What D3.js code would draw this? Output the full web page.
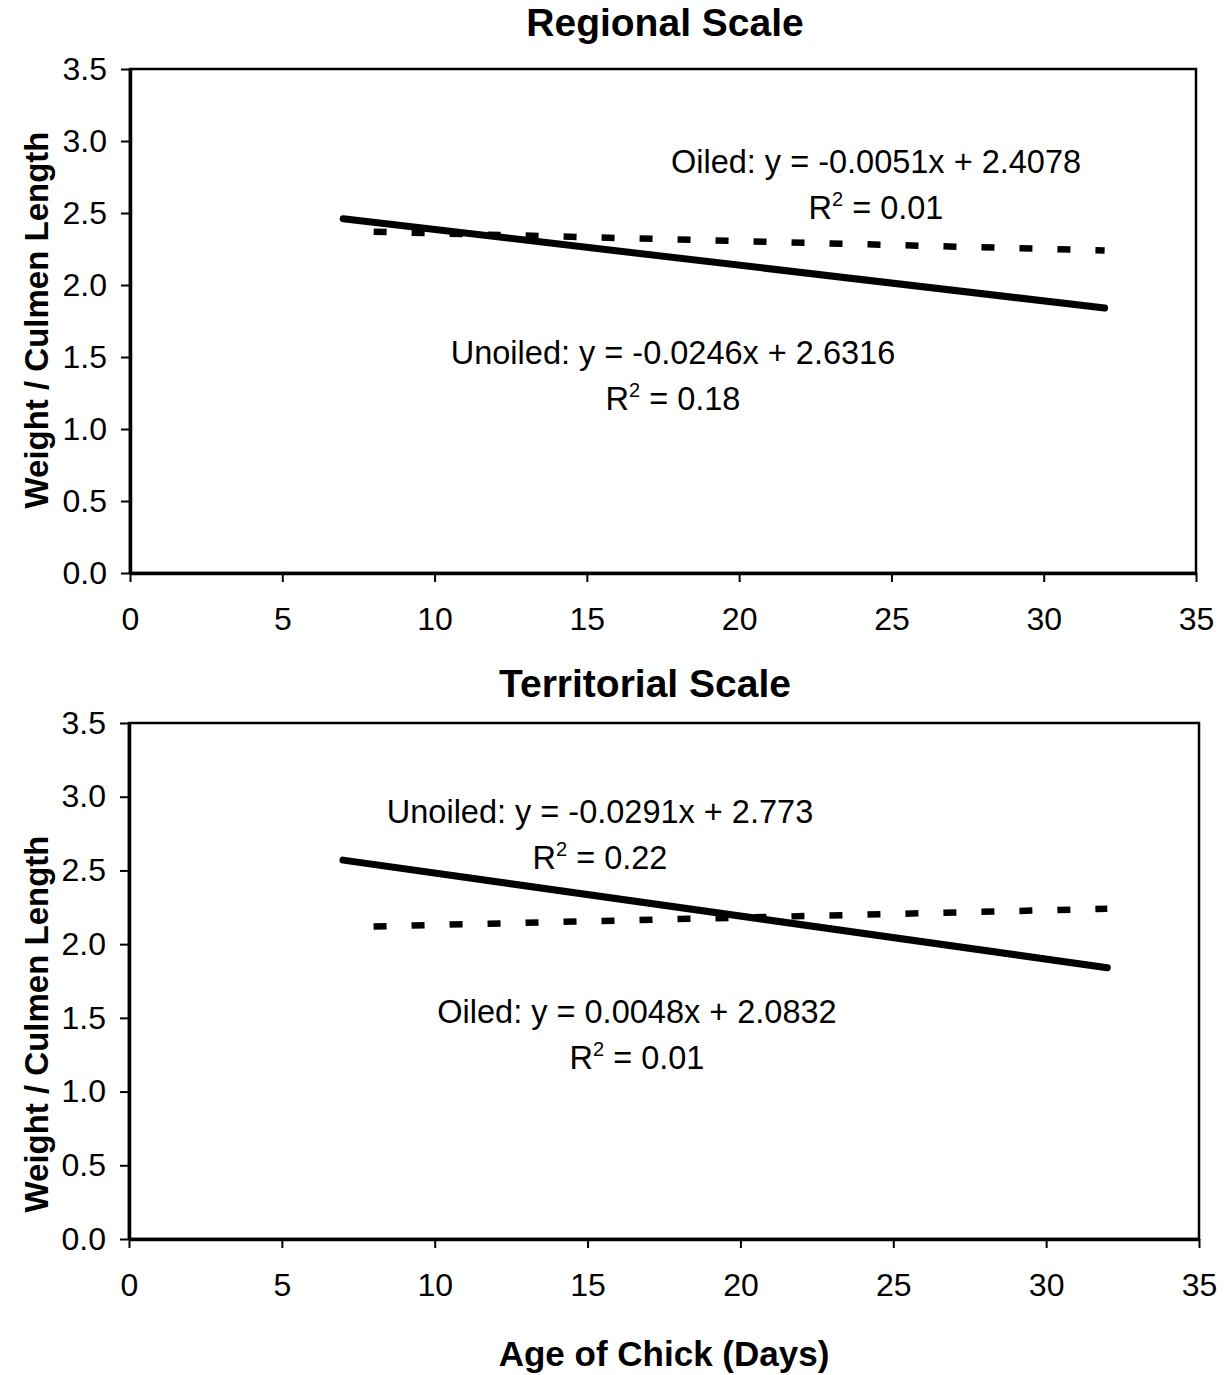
<!DOCTYPE html>
<meta charset="utf-8">
<html>
<head>
	<script src="https://cdn.jsdelivr.net/npm/d3@7"></script>
	<style>
		body { margin: 0; background: #fff; }
		svg text { font-family: "Liberation Sans", Arial, sans-serif; fill: #000; }
	</style>
</head>
<body>
	<div id="chart"></div>
	<script>
		// tick values on both axes
		var xTicks = [0, 5, 10, 15, 20, 25, 30, 35];
		var yTicks = [0, 0.5, 1.0, 1.5, 2.0, 2.5, 3.0, 3.5];

		var titles = ["Regional Scale", "Territorial Scale"];
		var yTitle = "Weight / Culmen Length";
		var xTitle = "Age of Chick (Days)";

		// trend line end points: [age, weight/culmen]
		var regionalUnoiled = [[7, 2.46], [32, 1.84]];
		var regionalOiled = [[8, 2.37], [32, 2.24]];
		var territorialUnoiled = [[7, 2.57], [32, 1.84]];
		var territorialOiled = [[8, 2.12], [32, 2.24]];

		// regression labels: equation, R squared
		var regionalOiledEq = ["Oiled: y = -0.0051x + 2.4078", "0.01"];
		var regionalUnoiledEq = ["Unoiled: y = -0.0246x + 2.6316", "0.18"];
		var territorialUnoiledEq = ["Unoiled: y = -0.0291x + 2.773", "0.22"];
		var territorialOiledEq = ["Oiled: y = 0.0048x + 2.0832", "0.01"];

		var svgWidth = 1226, svgHeight = 1375;

		// layout for each panel (pixels)
		var panels = [
			{ title: titles[0], left: 130, right: 1196, top: 69, bottom: 573, titleX: 665, titleY: 36, yTitleY: 320,
			  solid: regionalUnoiled, dashed: regionalOiled,
			  notes: [{ text: regionalOiledEq, x: 876, y: 173 }, { text: regionalUnoiledEq, x: 673, y: 364 }] },
			{ title: titles[1], left: 129, right: 1199, top: 723, bottom: 1239, titleX: 645, titleY: 697, yTitleY: 1024,
			  solid: territorialUnoiled, dashed: territorialOiled,
			  notes: [{ text: territorialUnoiledEq, x: 600, y: 823 }, { text: territorialOiledEq, x: 637, y: 1023 }] }
		];

		var svg = d3.select("#chart").append("svg")
			.attr("width", svgWidth)
			.attr("height", svgHeight);

		panels.forEach(function(p) {
			var x = d3.scaleLinear().domain([0, 35]).range([p.left, p.right]);
			var y = d3.scaleLinear().domain([0, 3.5]).range([p.bottom, p.top]);

			var line = d3.line()
				.x(function(d) { return x(d[0]); })
				.y(function(d) { return y(d[1]); });

			var g = svg.append("g");

			// frame
			g.append("rect")
				.attr("x", p.left)
				.attr("y", p.top)
				.attr("width", p.right - p.left)
				.attr("height", p.bottom - p.top)
				.attr("fill", "none")
				.attr("stroke", "#000")
				.attr("stroke-width", 2.5);

			var yAxis = g.append("g")
				.attr("transform", "translate(" + p.left + ",0)")
				.call(d3.axisLeft(y).tickValues(yTicks).tickFormat(d3.format(".1f")).tickSize(9).tickSizeOuter(0).tickPadding(14));

			var xAxis = g.append("g")
				.attr("transform", "translate(0," + p.bottom + ")")
				.call(d3.axisBottom(x).tickValues(xTicks).tickSize(9).tickSizeOuter(0).tickPadding(25));

			[yAxis, xAxis].forEach(function(a) {
				a.select(".domain").attr("stroke-width", 3.5);
				a.selectAll(".tick line").attr("stroke-width", 2);
				a.selectAll("text")
					.style("font-size", "32px")
					.attr("fill", "#000");
			});

			g.append("path")
				.datum(p.solid)
				.attr("d", line)
				.attr("fill", "none")
				.attr("stroke", "#000")
				.attr("stroke-width", 7)
				.attr("stroke-linecap", "round");

			g.append("path")
				.datum(p.dashed)
				.attr("d", line)
				.attr("fill", "none")
				.attr("stroke", "#000")
				.attr("stroke-width", 6.5)
				.attr("stroke-dasharray", "13,25");

			g.append("text")
				.attr("x", p.titleX)
				.attr("y", p.titleY)
				.attr("text-anchor", "middle")
				.style("font-size", "39px")
				.style("font-weight", "bold")
				.text(p.title);

			g.append("text")
				.attr("transform", "translate(48," + p.yTitleY + ") rotate(-90)")
				.attr("text-anchor", "middle")
				.style("font-size", "33px")
				.style("font-weight", "bold")
				.text(yTitle);

			p.notes.forEach(function(n) {
				g.append("text")
					.attr("x", n.x)
					.attr("y", n.y)
					.attr("text-anchor", "middle")
					.style("font-size", "32.5px")
					.text(n.text[0]);

				var r = g.append("text")
					.attr("x", n.x)
					.attr("y", n.y + 46)
					.attr("text-anchor", "middle")
					.style("font-size", "32.5px");
				r.append("tspan").text("R");
				r.append("tspan").attr("dy", -13).style("font-size", "20px").text("2");
				r.append("tspan").attr("dy", 13).text(" = " + n.text[1]);
			});
		});

		svg.append("text")
			.attr("x", 664)
			.attr("y", 1366)
			.attr("text-anchor", "middle")
			.style("font-size", "35px")
			.style("font-weight", "bold")
			.text(xTitle);
	</script>
</body>
</html>
